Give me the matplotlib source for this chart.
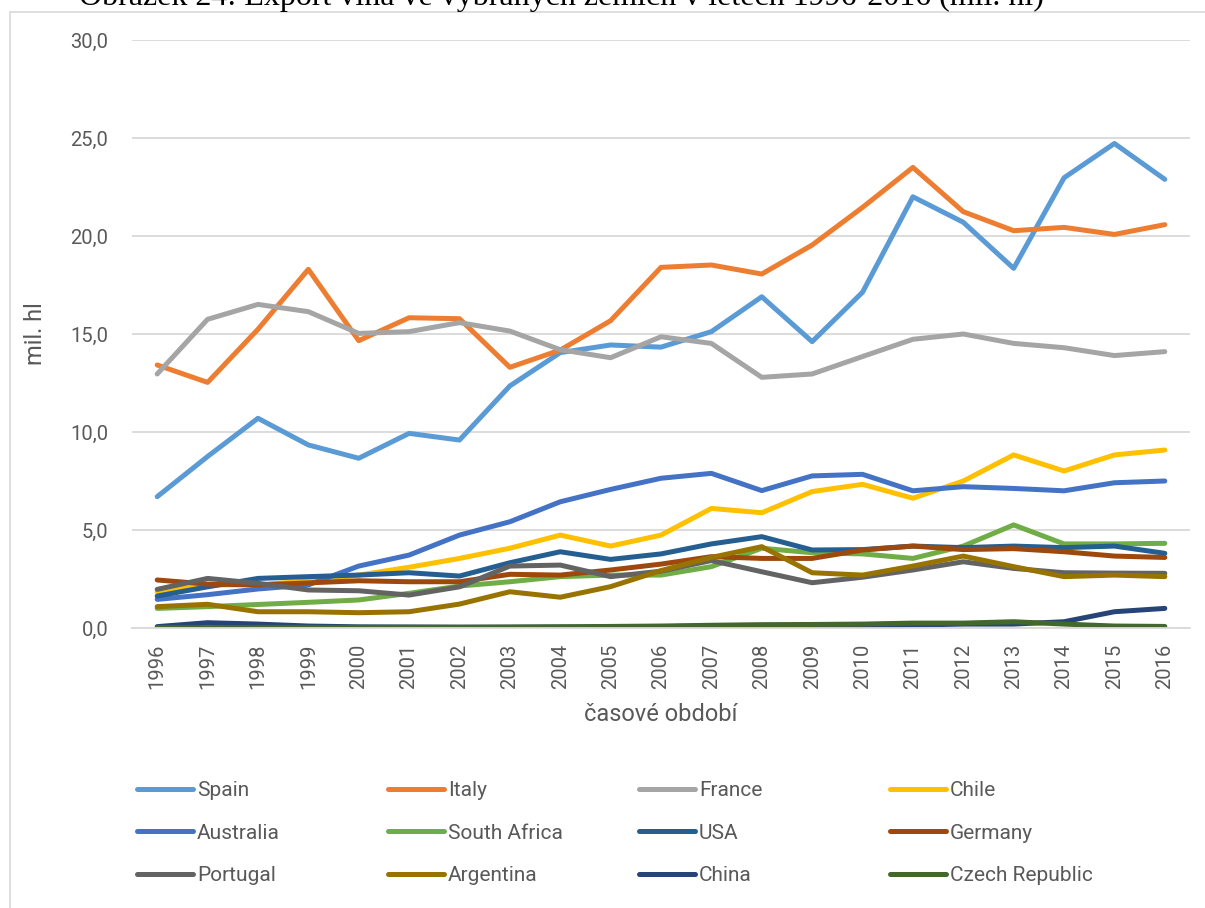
import matplotlib
matplotlib.use("Agg")
import matplotlib.pyplot as plt
from matplotlib.patches import Rectangle
from matplotlib.ticker import FuncFormatter

# export vina, mil. hl
years = list(range(1996, 2017))

spain = [6.7, 8.75, 10.7, 9.34, 8.66, 9.93, 9.59, 12.35, 14.05, 14.44, 14.33, 15.12,
         16.9, 14.61, 17.13, 22.0, 20.7, 18.35, 22.97, 24.72, 22.89]
italy = [13.42, 12.53, 15.24, 18.3, 14.66, 15.83, 15.78, 13.3, 14.18, 15.68, 18.4, 18.52,
         18.06, 19.54, 21.46, 23.5, 21.24, 20.27, 20.44, 20.08, 20.58]
france = [12.96, 15.75, 16.51, 16.14, 15.03, 15.12, 15.58, 15.15, 14.2, 13.79, 14.86, 14.52,
          12.79, 12.96, 13.85, 14.73, 15.0, 14.52, 14.3, 13.9, 14.1]
chile = [1.85, 2.2, 2.2, 2.4, 2.7, 3.1, 3.55, 4.07, 4.74, 4.18, 4.74, 6.1,
         5.88, 6.96, 7.33, 6.62, 7.5, 8.83, 8.01, 8.83, 9.08]
australia = [1.46, 1.7, 1.99, 2.2, 3.16, 3.72, 4.74, 5.42, 6.44, 7.07, 7.64, 7.89,
             7.01, 7.76, 7.84, 7.0, 7.21, 7.12, 7.0, 7.41, 7.5]
south_africa = [1.0, 1.09, 1.2, 1.31, 1.43, 1.77, 2.14, 2.36, 2.62, 2.7, 2.7, 3.13,
                4.07, 3.84, 3.78, 3.55, 4.18, 5.26, 4.29, 4.29, 4.32]
usa = [1.63, 2.1, 2.53, 2.62, 2.7, 2.82, 2.65, 3.33, 3.89, 3.5, 3.78, 4.29,
       4.66, 3.98, 4.0, 4.18, 4.1, 4.18, 4.1, 4.18, 3.81]
germany = [2.45, 2.24, 2.2, 2.3, 2.41, 2.36, 2.36, 2.74, 2.7, 2.96, 3.26, 3.64,
           3.55, 3.55, 3.98, 4.18, 4.0, 4.05, 3.89, 3.67, 3.6]
portugal = [1.97, 2.53, 2.28, 1.94, 1.9, 1.68, 2.1, 3.16, 3.21, 2.62, 2.9, 3.44,
            2.87, 2.31, 2.59, 2.96, 3.38, 3.04, 2.82, 2.8, 2.79]
argentina = [1.09, 1.21, 0.83, 0.83, 0.78, 0.83, 1.22, 1.85, 1.57, 2.11, 2.93, 3.6,
             4.15, 2.82, 2.7, 3.16, 3.67, 3.13, 2.62, 2.7, 2.62]
china = [0.07, 0.27, 0.2, 0.1, 0.06, 0.05, 0.04, 0.04, 0.05, 0.05, 0.07, 0.1,
         0.1, 0.08, 0.1, 0.15, 0.2, 0.2, 0.32, 0.83, 1.0]
czech = [0.02, 0.02, 0.03, 0.03, 0.03, 0.04, 0.04, 0.05, 0.06, 0.08, 0.1, 0.14,
         0.17, 0.18, 0.2, 0.25, 0.25, 0.32, 0.2, 0.1, 0.08]

names = ["Spain", "Italy", "France", "Chile", "Australia", "South Africa", "USA",
         "Germany", "Portugal", "Argentina", "China", "Czech Republic"]
series = [spain, italy, france, chile, australia, south_africa, usa, germany,
          portugal, argentina, china, czech]
colors = ["#5B9BD5", "#ED7D31", "#A5A5A5", "#FFC000", "#4472C4", "#70AD47",
          "#255E91", "#9E480E", "#636363", "#997300", "#264478", "#43682B"]

plt.rcParams['font.family'] = ['Roboto', 'DejaVu Sans']
txt_col = "#595959"

fig = plt.figure(figsize=(12.05, 9.08), dpi=100)
ax = fig.add_axes([132/1205, 1-628/908, (1190-132)/1205, (628-40)/908])

# chart frame (cut off on the right/bottom like the screenshot)
fig.add_artist(Rectangle((10/1205, -0.1), 1.2, 1.1 - 12/908, transform=fig.transFigure,
                         fill=False, edgecolor="#D9D9D9", linewidth=1.2))
fig.text(561/1205, 1 - 5/908, "Obrázek 24: Export vína ve vybraných zemích v letech 1996-2016 (mil. hl)",
         family="Liberation Serif", fontsize=23, ha="center", va="baseline", color="black")

lines = []
for name, vals, c in zip(names, series, colors):
    ln, = ax.plot(years, vals, color=c, lw=3.6, solid_capstyle="round",
                  solid_joinstyle="round", label=name)
    lines.append(ln)

ax.set_xlim(1995.5, 2016.5)
ax.set_ylim(0, 30)
ax.set_yticks([0, 5, 10, 15, 20, 25, 30])
ax.yaxis.set_major_formatter(FuncFormatter(lambda v, p: f"{v:.1f}".replace(".", ",")))
ax.set_xticks(years)
ax.set_xticklabels([str(y) for y in years], rotation=90)
ax.tick_params(axis="both", length=0, colors=txt_col, labelsize=14.5)
ax.tick_params(axis="y", pad=17)
ax.tick_params(axis="x", pad=11)
ax.grid(axis="y", color="#D9D9D9", lw=1.3)
ax.set_axisbelow(True)
for s in ["top", "right", "left"]:
    ax.spines[s].set_visible(False)
ax.spines["bottom"].set_color("#D9D9D9")
ax.spines["bottom"].set_linewidth(1.3)

ax.set_ylabel("mil. hl", fontsize=17, color=txt_col)
ax.yaxis.set_label_coords(-0.080, 0.5)
ax.set_xlabel("časové období", fontsize=17, color=txt_col)
ax.xaxis.set_label_coords(0.5, -0.128)

# legend: 4 columns placed at fixed x positions
col_x = [137, 388, 639, 890]
for j in range(4):
    idx = [j, j + 4, j + 8]
    fig.legend([lines[i] for i in idx], [names[i] for i in idx],
               loc="upper left", bbox_to_anchor=(col_x[j]/1205, 1 - 781/908),
               frameon=False, fontsize=15, handlelength=2.7, handletextpad=0.18,
               labelspacing=1.13, labelcolor=txt_col, borderaxespad=0, borderpad=0)

fig.savefig("out.png", dpi=100)
plt.close()
